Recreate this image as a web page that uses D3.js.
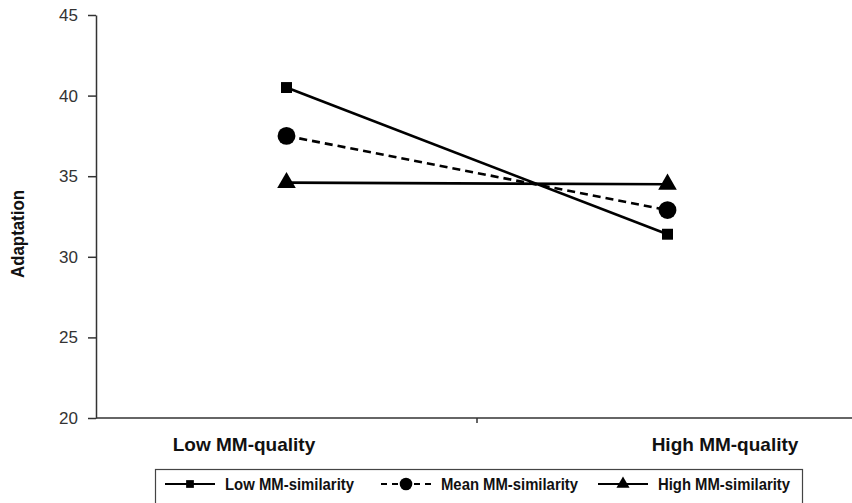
<!DOCTYPE html>
<html>
<head>
<meta charset="utf-8">
<script src="https://cdn.jsdelivr.net/npm/d3@7"></script>
<style>
  body { margin: 0; background: #fff; }
  svg { display: block; }
</style>
</head>
<body>
<div id="chart"></div>
<script>
// data
let categories = ["Low MM-quality", "High MM-quality"];
let series_names = ["Low MM-similarity", "Mean MM-similarity", "High MM-similarity"];
let low_similarity = [40.5, 31.4];
let mean_similarity = [37.5, 32.9];
let high_similarity = [34.6, 34.5];
let y_ticks = [20, 25, 30, 35, 40, 45];

let series = [
    {name: series_names[0], values: low_similarity, symbol: d3.symbolSquare, size: 120, dash: null},
    {name: series_names[1], values: mean_similarity, symbol: d3.symbolCircle, size: 250, dash: "8,5"},
    {name: series_names[2], values: high_similarity, symbol: d3.symbolTriangle, size: 150, dash: null}
];

let width = 852, height = 503;
let svg = d3.select("#chart").append("svg")
    .attr("width", width)
    .attr("height", height);

let x = d3.scaleBand().domain(categories).range([96, 858]);
let x_label = d3.scalePoint().domain(categories).range([244, 725]);
let y = d3.scaleLinear().domain([20, 45]).range([418, 15]);

// y axis
let y_axis = svg.append("g")
    .attr("transform", "translate(96,0)")
    .call(d3.axisLeft(y).tickValues(y_ticks).tickSize(8).tickPadding(10).tickSizeOuter(0));
y_axis.select(".domain").attr("stroke", "#333").attr("stroke-width", 1.5);
y_axis.selectAll(".tick line").attr("stroke", "#333").attr("stroke-width", 1.5);
y_axis.selectAll("text")
    .attr("fill", "#333")
    .style("font", "17px 'Liberation Sans', Arial, sans-serif");

// x axis line with ticks on the category boundaries
svg.append("line")
    .attr("x1", 96).attr("x2", 858)
    .attr("y1", y(20)).attr("y2", y(20))
    .attr("stroke", "#333").attr("stroke-width", 1.5);
svg.append("line")
    .attr("x1", x(categories[1])).attr("x2", x(categories[1]))
    .attr("y1", y(20)).attr("y2", y(20) + 5)
    .attr("stroke", "#333").attr("stroke-width", 1.5);

svg.append("g")
    .selectAll("text")
    .data(categories)
    .join("text")
    .attr("x", d => x_label(d))
    .attr("y", 451)
    .attr("text-anchor", "middle")
    .attr("fill", "#111")
    .style("font", "bold 19px 'Liberation Sans', Arial, sans-serif")
    .text(d => d);

// y axis title
svg.append("text")
    .attr("transform", "translate(24,234) rotate(-90)")
    .attr("text-anchor", "middle")
    .attr("fill", "#111")
    .attr("textLength", 88)
    .attr("lengthAdjust", "spacingAndGlyphs")
    .style("font", "bold 18px 'Liberation Sans', Arial, sans-serif")
    .text("Adaptation");

// lines
let line = d3.line()
    .x((d, i) => x(categories[i]) + x.bandwidth() / 2)
    .y(d => y(d));

svg.append("g")
    .selectAll("path")
    .data(series)
    .join("path")
    .attr("d", d => line(d.values))
    .attr("fill", "none")
    .attr("stroke", "#000")
    .attr("stroke-width", 2.6)
    .attr("stroke-dasharray", d => d.dash);

// markers
series.forEach(function(s){
    svg.append("g")
        .selectAll("path")
        .data(s.values)
        .join("path")
        .attr("transform", (d, i) => `translate(${x(categories[i]) + x.bandwidth() / 2},${y(d)})`)
        .attr("d", d3.symbol().type(s.symbol).size(s.size))
        .attr("fill", "#000");
});

// legend
svg.append("rect")
    .attr("x", 155.5).attr("y", 469.5)
    .attr("width", 647).attr("height", 45)
    .attr("fill", "none")
    .attr("stroke", "#444")
    .attr("stroke-width", 1.2);

let legend_x = [165, 381, 598];
let legend_len = [129, 137, 132];
let legend = svg.append("g")
    .selectAll("g")
    .data(series)
    .join("g")
    .attr("transform", (d, i) => `translate(${legend_x[i]},484)`);

legend.append("line")
    .attr("x1", 0).attr("x2", 50)
    .attr("stroke", "#000")
    .attr("stroke-width", 2.2)
    .attr("stroke-dasharray", d => d.dash ? "6,5" : null);

legend.append("path")
    .attr("transform", "translate(25,0)")
    .attr("d", d => d3.symbol().type(d.symbol).size(d.size * 0.5)())
    .attr("fill", "#000");

legend.append("text")
    .attr("x", 60)
    .attr("y", 6)
    .attr("fill", "#111")
    .attr("textLength", (d, i) => legend_len[i])
    .attr("lengthAdjust", "spacingAndGlyphs")
    .style("font", "bold 16px 'Liberation Sans', Arial, sans-serif")
    .text(d => d.name);
</script>
</body>
</html>
